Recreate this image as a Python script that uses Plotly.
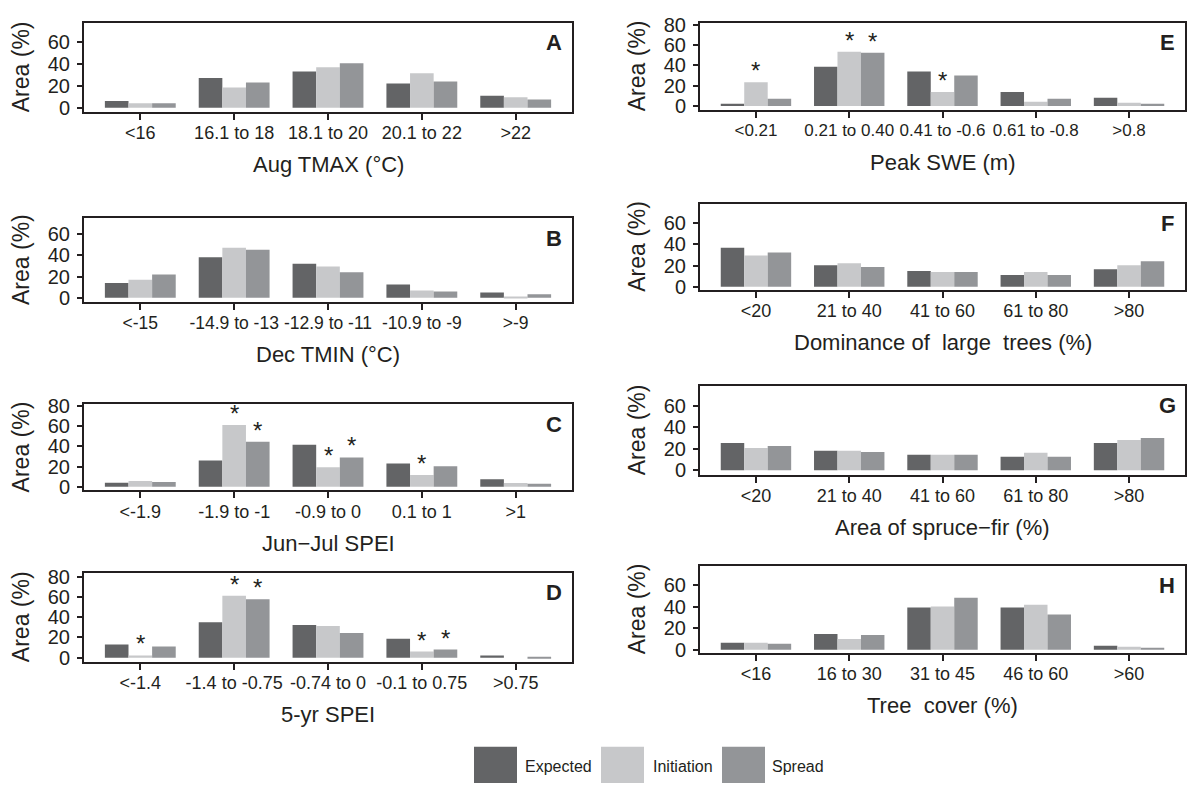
import plotly.graph_objects as go

W, H = 1189, 792
INK = "#231f20"
FONT = "Liberation Sans, Arial, Helvetica, sans-serif"

series_names = ["Expected", "Initiation", "Spread"]
series_colors = ["#636466", "#c7c8ca", "#939598"]

# ---- data (Area, %) ----
cats_A = ["<16", "16.1 to 18", "18.1 to 20", "20.1 to 22", ">22"]
exp_A = [6, 27, 33, 22, 11]
ini_A = [4, 18.5, 37, 31.5, 9.5]
spr_A = [4, 23, 40.5, 24, 7.5]
sig_A = []

cats_B = ["<-15", "-14.9 to -13", "-12.9 to -11", "-10.9 to -9", ">-9"]
exp_B = [14, 38, 32, 12.5, 5]
ini_B = [17, 47, 29.5, 7, 1]
spr_B = [22, 45, 24, 6, 3.3]
sig_B = []

cats_C = ["<-1.9", "-1.9 to -1", "-0.9 to 0", "0.1 to 1", ">1"]
exp_C = [4, 26, 41.5, 23, 7.5]
ini_C = [5.8, 61, 19.3, 11.6, 3.8]
spr_C = [4.8, 44.5, 29, 20.2, 2.9]
sig_C = [(1, 1), (1, 2), (2, 1), (2, 2), (3, 1)]

cats_D = ["<-1.4", "-1.4 to -0.75", "-0.74 to 0", "-0.1 to 0.75", ">0.75"]
exp_D = [13, 35, 32.3, 18.7, 2.3]
ini_D = [2.3, 61.3, 31.3, 6.1, 0]
spr_D = [11, 57.7, 24.5, 8.1, 0.5]
sig_D = [(0, 1), (1, 1), (1, 2), (3, 1), (3, 2)]

cats_E = ["<0.21", "0.21 to 0.40", "0.41 to -0.6", "0.61 to -0.8", ">0.8"]
exp_E = [2.2, 38.7, 34, 13.8, 8]
ini_E = [23.4, 53.5, 13.8, 4.2, 3.2]
spr_E = [7, 52.5, 30.1, 7, 2.2]
sig_E = [(0, 1), (1, 1), (1, 2), (2, 1)]

cats_F = ["<20", "21 to 40", "41 to 60", "61 to 80", ">80"]
exp_F = [36.9, 20.3, 14.8, 11.1, 16.6]
ini_F = [29.5, 22.2, 13.8, 13.8, 20.3]
spr_F = [32.3, 18.5, 13.8, 11.1, 24]
sig_F = []

cats_G = ["<20", "21 to 40", "41 to 60", "61 to 80", ">80"]
exp_G = [25.5, 18.2, 14.5, 12.6, 25.5]
ini_G = [20.9, 18.2, 14.5, 16.3, 28.3]
spr_G = [22.8, 17.2, 14.5, 12.6, 30.2]
sig_G = []

cats_H = ["<16", "16 to 30", "31 to 45", "46 to 60", ">60"]
exp_H = [6.4, 14.6, 39.3, 39.3, 3.7]
ini_H = [6.4, 10, 40.2, 42, 2.7]
spr_H = [5.5, 13.7, 48.4, 32.9, 1.8]
sig_H = []

ticks60 = [0, 20, 40, 60]
ticks80 = [0, 20, 40, 60, 80]

panels = [
    dict(letter="A", title="Aug TMAX (°C)", cats=cats_A, vals=[exp_A, ini_A, spr_A], sig=sig_A,
         ticks=ticks60, yr=[-3.7, 77.6], box=(84, 572, 14, 105), tfs=18),
    dict(letter="B", title="Dec TMIN (°C)", cats=cats_B, vals=[exp_B, ini_B, spr_B], sig=sig_B,
         ticks=ticks60, yr=[-3.5, 74.5], box=(84, 572, 214, 299), tfs=17.5),
    dict(letter="C", title="Jun\u2212Jul SPEI", cats=cats_C, vals=[exp_C, ini_C, spr_C], sig=sig_C,
         ticks=ticks80, yr=[-3.6, 81.5], box=(84, 572, 404, 492), tfs=18),
    dict(letter="D", title="5-yr SPEI", cats=cats_D, vals=[exp_D, ini_D, spr_D], sig=sig_D,
         ticks=ticks80, yr=[-3.9, 84], box=(84, 572, 576, 667), tfs=18),
    dict(letter="E", title="Peak SWE (m)", cats=cats_E, vals=[exp_E, ini_E, spr_E], sig=sig_E,
         ticks=ticks80, yr=[-3.8, 82], box=(700, 1185, 14, 103), tfs=17),
    dict(letter="F", title="Dominance of  large  trees (%)", cats=cats_F, vals=[exp_F, ini_F, spr_F], sig=sig_F,
         ticks=ticks60, yr=[-3, 78.5], box=(700, 1185, 199, 287), tfs=18),
    dict(letter="G", title="Area of spruce\u2212fir (%)", cats=cats_G, vals=[exp_G, ini_G, spr_G], sig=sig_G,
         ticks=ticks60, yr=[-4.2, 79], box=(700, 1185, 385, 476), tfs=18),
    dict(letter="H", title="Tree  cover (%)", cats=cats_H, vals=[exp_H, ini_H, spr_H], sig=sig_H,
         ticks=ticks60, yr=[-3, 78.3], box=(700, 1185, 569, 658), tfs=18),
]

bargap = 0.245
bw = (1 - bargap) / 3

fig = go.Figure()
layout = dict(
    width=W, height=H,
    margin=dict(l=0, r=0, t=0, b=0),
    paper_bgcolor="white", plot_bgcolor="white",
    barmode="group", bargap=bargap, bargroupgap=0,
    showlegend=False,
    font=dict(family=FONT, color=INK, size=18),
)
annotations = []
shapes = []

for n, p in enumerate(panels, start=1):
    xa = "x" if n == 1 else f"x{n}"
    ya = "y" if n == 1 else f"y{n}"
    xk = "xaxis" if n == 1 else f"xaxis{n}"
    yk = "yaxis" if n == 1 else f"yaxis{n}"
    xs = list(range(len(p["cats"])))
    for k in range(3):
        fig.add_trace(go.Bar(
            x=xs, y=p["vals"][k], name=series_names[k],
            marker=dict(color=series_colors[k], line=dict(width=0)),
            xaxis=xa, yaxis=ya, showlegend=False,
        ))
    x0, x1, y0, y1 = p["box"]
    layout[xk] = dict(
        domain=[x0 / W, x1 / W], anchor=ya, range=[-0.6, len(xs) - 0.4],
        tickmode="array", tickvals=xs, ticktext=p["cats"], tickangle=0,
        ticks="outside", ticklen=6, tickwidth=2, tickcolor=INK,
        ticklabelstandoff=-2,
        showline=True, linewidth=2, linecolor=INK, mirror=True,
        showgrid=False, zeroline=False, fixedrange=True,
        tickfont=dict(size=p["tfs"], color=INK, family=FONT),
    )
    layout[yk] = dict(
        domain=[1 - y1 / H, 1 - y0 / H], anchor=xa, range=p["yr"],
        tickmode="array", tickvals=p["ticks"],
        ticks="outside", ticklen=5, tickwidth=2, tickcolor=INK,
        ticklabelstandoff=3,
        showline=True, linewidth=2, linecolor=INK, mirror=True,
        showgrid=False, zeroline=False, fixedrange=True,
        tickfont=dict(size=20, color=INK, family=FONT),
    )
    # panel letter
    annotations.append(dict(
        text=f"<b>{p['letter']}</b>", xref=f"{xa} domain", yref=f"{ya} domain",
        x=1, y=1, xanchor="center", yanchor="middle", xshift=-18, yshift=-20,
        showarrow=False, font=dict(size=22, color=INK, family=FONT),
    ))
    # x title
    annotations.append(dict(
        text=p["title"], xref=f"{xa} domain", yref=f"{ya} domain",
        x=0.5, y=0, xanchor="center", yanchor="middle", yshift=-53,
        showarrow=False, font=dict(size=22, color=INK, family=FONT),
    ))
    # y title
    annotations.append(dict(
        text="Area (%)", xref=f"{xa} domain", yref=f"{ya} domain",
        x=0, y=0.5, xanchor="center", yanchor="middle", xshift=-63,
        textangle=-90, showarrow=False, font=dict(size=23, color=INK, family=FONT),
    ))
    # significance asterisks
    for (ci, si) in p["sig"]:
        annotations.append(dict(
            text="*", xref=xa, yref=ya,
            x=ci + (si - 1) * bw, y=p["vals"][si][ci],
            xanchor="center", yanchor="bottom", yshift=-4,
            showarrow=False, font=dict(size=24, color=INK, family=FONT),
        ))

# legend (custom, large swatches)
legend_items = [(474, 517, 523), (601, 644, 651), (722, 765, 770)]
for (sx0, sx1, tx), name, col in zip(legend_items, series_names, series_colors):
    shapes.append(dict(type="rect", xref="paper", yref="paper",
                       x0=sx0 / W, x1=sx1 / W, y0=1 - 791 / H, y1=1 - 754 / H,
                       fillcolor=col, line=dict(width=0)))
    annotations.append(dict(text=name, xref="paper", yref="paper",
                            x=tx / W, y=1 - 774 / H, xanchor="left", yanchor="middle",
                            showarrow=False, font=dict(size=16, color=INK, family=FONT)))

layout["annotations"] = annotations
layout["shapes"] = shapes
fig.update_layout(**layout)

fig.write_html("out.html", config={"displayModeBar": False},
               post_script="document.body.style.margin='0';")
